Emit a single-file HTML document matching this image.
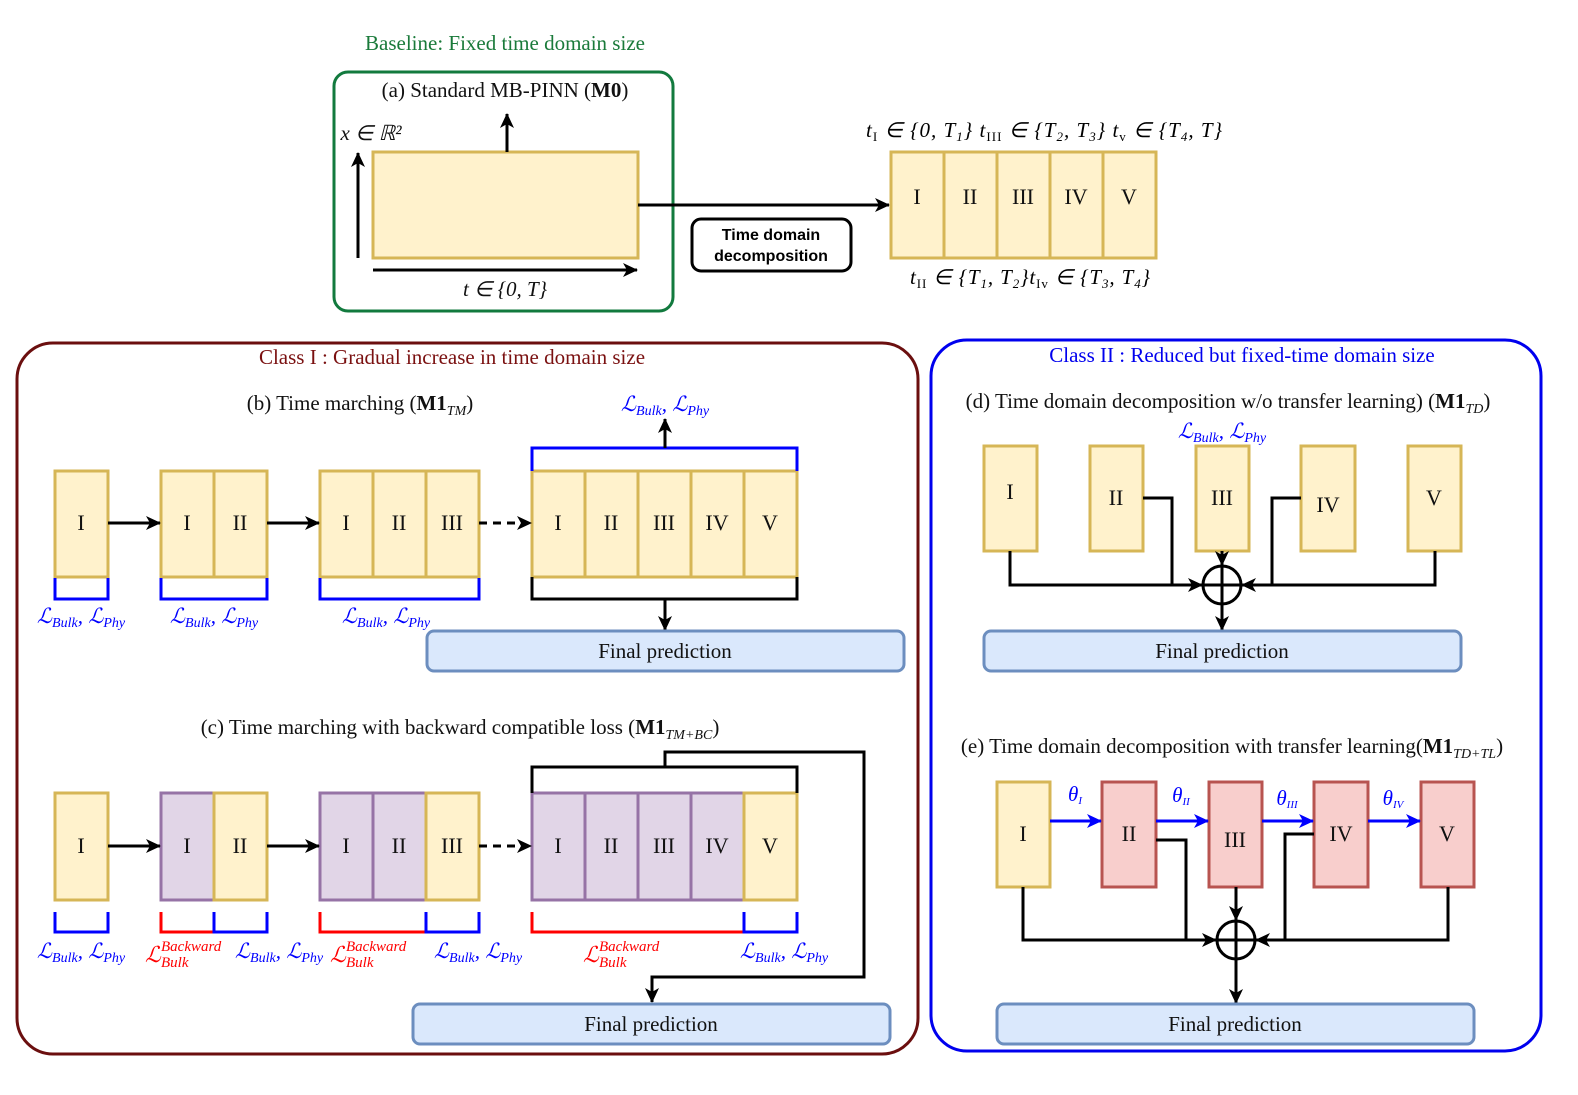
<!DOCTYPE html>
<html><head><meta charset="utf-8"><style>
html,body{margin:0;padding:0;background:#fff}
svg{display:block;font-family:"Liberation Serif",serif}
.y{fill:#fff2cc;stroke:#d6b656;stroke-width:3}
.p{fill:#e1d5e7;stroke:#9673a6;stroke-width:3}
.r{fill:#f8cecc;stroke:#b85450;stroke-width:3}
.f{fill:#dae8fc;stroke:#6c8ebf;stroke-width:3}
.k{fill:none;stroke:#000;stroke-width:3}
.bb{fill:none;stroke:#0000ff;stroke-width:3}
.rr{fill:none;stroke:#ff0000;stroke-width:3}
.c{font-size:22px;text-anchor:middle;fill:#111}
.t{font-size:21px;text-anchor:middle;fill:#111}
.l{font-size:21px;text-anchor:middle;fill:#0000ff;font-style:italic}
.lr{fill:#ff0000;font-style:italic}
</style></head><body>
<svg width="1578" height="1095" viewBox="0 0 1578 1095">
<defs>
<marker id="A" markerWidth="16" markerHeight="16" refX="14" refY="8" orient="auto" markerUnits="userSpaceOnUse"><path d="M0,1 L15,8 L0,15 L4,8z" fill="#000"/></marker>
<marker id="B" markerWidth="16" markerHeight="16" refX="14" refY="8" orient="auto" markerUnits="userSpaceOnUse"><path d="M0,1 L15,8 L0,15 L4,8z" fill="#0000ff"/></marker>
</defs>

<!-- Baseline -->
<text x="505" y="50" font-size="21" fill="#1a7a3a" text-anchor="middle">Baseline: Fixed time domain size</text>
<rect x="334" y="72" width="339" height="239" rx="14" fill="none" stroke="#127a3e" stroke-width="3"/>
<text x="505" y="97" class="t">(a) Standard MB-PINN (<tspan font-weight="bold">M0</tspan>)</text>
<rect x="373" y="152" width="265" height="106" class="y"/>
<line x1="507" y1="152" x2="507" y2="114" class="k" marker-end="url(#A)"/>
<line x1="358" y1="258" x2="358" y2="153" class="k" marker-end="url(#A)"/>
<text x="371" y="140" class="t" font-style="italic">x ∈ ℝ²</text>
<line x1="373" y1="270" x2="637" y2="270" class="k" marker-end="url(#A)"/>
<text x="505" y="296" class="t" font-style="italic">t ∈ {0, T}</text>
<line x1="638" y1="205" x2="889" y2="205" class="k" marker-end="url(#A)"/>
<rect x="692" y="219" width="159" height="52" rx="9" fill="#fff" stroke="#000" stroke-width="3"/>
<text x="771" y="240" font-family="Liberation Sans,sans-serif" font-weight="bold" font-size="16" text-anchor="middle">Time domain</text>
<text x="771" y="261" font-family="Liberation Sans,sans-serif" font-weight="bold" font-size="16" text-anchor="middle">decomposition</text>
<g>
<rect x="891" y="152" width="53" height="106" class="y"/><rect x="944" y="152" width="53" height="106" class="y"/><rect x="997" y="152" width="53" height="106" class="y"/><rect x="1050" y="152" width="53" height="106" class="y"/><rect x="1103" y="152" width="53" height="106" class="y"/>
<text x="917" y="204" class="c">I</text><text x="970" y="204" class="c">II</text><text x="1023" y="204" class="c">III</text><text x="1076" y="204" class="c">IV</text><text x="1129" y="204" class="c">V</text>
</g>
<text x="1044" y="137" font-size="21" text-anchor="middle" font-style="italic" textLength="356">t<tspan font-size="13" dy="4" font-style="normal">I</tspan><tspan dy="-4"> ∈ {0, T</tspan><tspan font-size="13" dy="4">1</tspan><tspan dy="-4">} t</tspan><tspan font-size="13" dy="4" font-style="normal">III</tspan><tspan dy="-4"> ∈ {T</tspan><tspan font-size="13" dy="4">2</tspan><tspan dy="-4">, T</tspan><tspan font-size="13" dy="4">3</tspan><tspan dy="-4">}  t</tspan><tspan font-size="13" dy="4" font-style="normal">v</tspan><tspan dy="-4"> ∈ {T</tspan><tspan font-size="13" dy="4">4</tspan><tspan dy="-4">, T}</tspan></text>
<text x="1030" y="284" font-size="21" text-anchor="middle" font-style="italic" textLength="240">t<tspan font-size="13" dy="4" font-style="normal">II</tspan><tspan dy="-4"> ∈ {T</tspan><tspan font-size="13" dy="4">1</tspan><tspan dy="-4">, T</tspan><tspan font-size="13" dy="4">2</tspan><tspan dy="-4">}t</tspan><tspan font-size="13" dy="4" font-style="normal">Iv</tspan><tspan dy="-4"> ∈ {T</tspan><tspan font-size="13" dy="4">3</tspan><tspan dy="-4">, T</tspan><tspan font-size="13" dy="4">4</tspan><tspan dy="-4">}</tspan></text>

<!-- Class I -->
<rect x="17" y="343" width="901" height="711" rx="36" fill="none" stroke="#6b0f0f" stroke-width="3"/>
<text x="452" y="364" font-size="21" fill="#7a1010" text-anchor="middle">Class I : Gradual increase in time domain size</text>
<text x="360" y="410" class="t">(b) Time marching (<tspan font-weight="bold">M1</tspan><tspan font-size="14" font-style="italic" dy="5">TM</tspan><tspan dy="-5">)</tspan></text>
<g>
<rect x="55" y="471" width="53" height="106" class="y"/>
<rect x="161" y="471" width="53" height="106" class="y"/><rect x="214" y="471" width="53" height="106" class="y"/>
<rect x="320" y="471" width="53" height="106" class="y"/><rect x="373" y="471" width="53" height="106" class="y"/><rect x="426" y="471" width="53" height="106" class="y"/>
<rect x="532" y="471" width="53" height="106" class="y"/><rect x="585" y="471" width="53" height="106" class="y"/><rect x="638" y="471" width="53" height="106" class="y"/><rect x="691" y="471" width="53" height="106" class="y"/><rect x="744" y="471" width="53" height="106" class="y"/>
<text x="81" y="530" class="c">I</text>
<text x="187" y="530" class="c">I</text><text x="240" y="530" class="c">II</text>
<text x="346" y="530" class="c">I</text><text x="399" y="530" class="c">II</text><text x="452" y="530" class="c">III</text>
<text x="558" y="530" class="c">I</text><text x="611" y="530" class="c">II</text><text x="664" y="530" class="c">III</text><text x="717" y="530" class="c">IV</text><text x="770" y="530" class="c">V</text>
</g>
<line x1="108" y1="523" x2="160" y2="523" class="k" marker-end="url(#A)"/>
<line x1="267" y1="523" x2="319" y2="523" class="k" marker-end="url(#A)"/>
<line x1="479" y1="523" x2="531" y2="523" class="k" stroke-dasharray="8,6" marker-end="url(#A)"/>
<path d="M55,578 V599 H108 V578" class="bb"/>
<path d="M161,578 V599 H267 V578" class="bb"/>
<path d="M320,578 V599 H479 V578" class="bb"/>
<path d="M532,471 V448 H797 V471" class="bb"/>
<line x1="665" y1="448" x2="665" y2="419" class="k" marker-end="url(#A)"/>
<text x="665" y="411" class="l">ℒ<tspan font-size="14" dy="4">Bulk</tspan><tspan dy="-4">, ℒ</tspan><tspan font-size="14" dy="4">Phy</tspan></text>
<text x="81" y="623" class="l">ℒ<tspan font-size="14" dy="4">Bulk</tspan><tspan dy="-4">, ℒ</tspan><tspan font-size="14" dy="4">Phy</tspan></text>
<text x="214" y="623" class="l">ℒ<tspan font-size="14" dy="4">Bulk</tspan><tspan dy="-4">, ℒ</tspan><tspan font-size="14" dy="4">Phy</tspan></text>
<text x="386" y="623" class="l">ℒ<tspan font-size="14" dy="4">Bulk</tspan><tspan dy="-4">, ℒ</tspan><tspan font-size="14" dy="4">Phy</tspan></text>
<path d="M532,577 V599 H797 V577" class="k"/>
<line x1="665" y1="599" x2="665" y2="630" class="k" marker-end="url(#A)"/>
<rect x="427" y="631" width="477" height="40" rx="7" class="f"/>
<text x="665" y="658" class="t">Final prediction</text>

<!-- (c) -->
<text x="460" y="734" class="t">(c) Time marching with backward compatible loss (<tspan font-weight="bold">M1</tspan><tspan font-size="14" font-style="italic" dy="5">TM+BC</tspan><tspan dy="-5">)</tspan></text>
<g>
<rect x="55" y="793" width="53" height="107" class="y"/>
<rect x="161" y="793" width="53" height="107" class="p"/><rect x="214" y="793" width="53" height="107" class="y"/>
<rect x="320" y="793" width="53" height="107" class="p"/><rect x="373" y="793" width="53" height="107" class="p"/><rect x="426" y="793" width="53" height="107" class="y"/>
<rect x="532" y="793" width="53" height="107" class="p"/><rect x="585" y="793" width="53" height="107" class="p"/><rect x="638" y="793" width="53" height="107" class="p"/><rect x="691" y="793" width="53" height="107" class="p"/><rect x="744" y="793" width="53" height="107" class="y"/>
<text x="81" y="853" class="c">I</text>
<text x="187" y="853" class="c">I</text><text x="240" y="853" class="c">II</text>
<text x="346" y="853" class="c">I</text><text x="399" y="853" class="c">II</text><text x="452" y="853" class="c">III</text>
<text x="558" y="853" class="c">I</text><text x="611" y="853" class="c">II</text><text x="664" y="853" class="c">III</text><text x="717" y="853" class="c">IV</text><text x="770" y="853" class="c">V</text>
</g>
<line x1="108" y1="846" x2="160" y2="846" class="k" marker-end="url(#A)"/>
<line x1="267" y1="846" x2="319" y2="846" class="k" marker-end="url(#A)"/>
<line x1="479" y1="846" x2="531" y2="846" class="k" stroke-dasharray="8,6" marker-end="url(#A)"/>
<path d="M532,793 V767 H797 V793" class="k"/>
<path d="M665,767 V752 H864 V977 H652 V1002" class="k" marker-end="url(#A)"/>
<path d="M55,912 V932 H108 V912" class="bb"/>
<path d="M161,912 V932 H214" class="rr"/><path d="M214,912 V932 H267 V912" class="bb"/>
<path d="M320,912 V932 H426" class="rr"/><path d="M426,912 V932 H479 V912" class="bb"/>
<path d="M532,912 V932 H744" class="rr"/><path d="M744,912 V932 H797 V912" class="bb"/>
<text x="81" y="958" class="l">ℒ<tspan font-size="14" dy="4">Bulk</tspan><tspan dy="-4">, ℒ</tspan><tspan font-size="14" dy="4">Phy</tspan></text>
<text x="279" y="958" class="l">ℒ<tspan font-size="14" dy="4">Bulk</tspan><tspan dy="-4">, ℒ</tspan><tspan font-size="14" dy="4">Phy</tspan></text>
<text x="478" y="958" class="l">ℒ<tspan font-size="14" dy="4">Bulk</tspan><tspan dy="-4">, ℒ</tspan><tspan font-size="14" dy="4">Phy</tspan></text>
<text x="784" y="958" class="l">ℒ<tspan font-size="14" dy="4">Bulk</tspan><tspan dy="-4">, ℒ</tspan><tspan font-size="14" dy="4">Phy</tspan></text>
<text x="145" y="962" class="lr" font-size="22">ℒ</text><text x="161" y="951" class="lr" font-size="15">Backward</text><text x="161" y="967" class="lr" font-size="15">Bulk</text>
<text x="330" y="962" class="lr" font-size="22">ℒ</text><text x="346" y="951" class="lr" font-size="15">Backward</text><text x="346" y="967" class="lr" font-size="15">Bulk</text>
<text x="583" y="962" class="lr" font-size="22">ℒ</text><text x="599" y="951" class="lr" font-size="15">Backward</text><text x="599" y="967" class="lr" font-size="15">Bulk</text>
<rect x="413" y="1004" width="477" height="40" rx="7" class="f"/>
<text x="651" y="1031" class="t">Final prediction</text>

<!-- Class II -->
<rect x="931" y="340" width="610" height="711" rx="36" fill="none" stroke="#0000ee" stroke-width="3"/>
<text x="1242" y="362" font-size="21" fill="#0000ee" text-anchor="middle">Class II : Reduced but fixed-time domain size</text>
<text x="1228" y="408" class="t">(d) Time domain decomposition w/o transfer learning) (<tspan font-weight="bold">M1</tspan><tspan font-size="14" font-style="italic" dy="5">TD</tspan><tspan dy="-5">)</tspan></text>
<text x="1222" y="438" class="l">ℒ<tspan font-size="14" dy="4">Bulk</tspan><tspan dy="-4">, ℒ</tspan><tspan font-size="14" dy="4">Phy</tspan></text>
<g>
<rect x="984" y="446" width="53" height="105" class="y"/>
<rect x="1090" y="446" width="53" height="105" class="y"/>
<rect x="1196" y="446" width="53" height="105" class="y"/>
<rect x="1301" y="446" width="54" height="105" class="y"/>
<rect x="1408" y="446" width="53" height="105" class="y"/>
<text x="1010" y="499" class="c">I</text><text x="1116" y="505" class="c">II</text><text x="1222" y="505" class="c">III</text><text x="1328" y="512" class="c">IV</text><text x="1434" y="505" class="c">V</text>
</g>
<path d="M1010,551 V585 H1202" class="k" marker-end="url(#A)"/>
<path d="M1143,498 H1172 V585" class="k"/>
<path d="M1435,551 V585 H1242" class="k" marker-end="url(#A)"/>
<path d="M1301,498 H1272 V585" class="k"/>
<line x1="1222" y1="551" x2="1222" y2="565" class="k" marker-end="url(#A)"/>
<circle cx="1222" cy="585" r="19" fill="none" stroke="#000" stroke-width="3"/>
<line x1="1203" y1="585" x2="1241" y2="585" class="k"/>
<line x1="1222" y1="566" x2="1222" y2="630" class="k" marker-end="url(#A)"/>
<rect x="984" y="631" width="477" height="40" rx="7" class="f"/>
<text x="1222" y="658" class="t">Final prediction</text>

<text x="1232" y="753" class="t">(e) Time domain decomposition with transfer learning(<tspan font-weight="bold">M1</tspan><tspan font-size="14" font-style="italic" dy="5">TD+TL</tspan><tspan dy="-5">)</tspan></text>
<g>
<rect x="997" y="782" width="53" height="105" class="y"/>
<rect x="1102" y="782" width="54" height="105" class="r"/>
<rect x="1209" y="782" width="53" height="105" class="r"/>
<rect x="1314" y="782" width="54" height="105" class="r"/>
<rect x="1421" y="782" width="53" height="105" class="r"/>
<text x="1023" y="841" class="c">I</text><text x="1129" y="841" class="c">II</text><text x="1235" y="847" class="c">III</text><text x="1341" y="841" class="c">IV</text><text x="1447" y="841" class="c">V</text>
</g>
<line x1="1050" y1="821" x2="1101" y2="821" stroke="#0000ff" stroke-width="3" marker-end="url(#B)"/>
<line x1="1156" y1="821" x2="1208" y2="821" stroke="#0000ff" stroke-width="3" marker-end="url(#B)"/>
<line x1="1262" y1="821" x2="1313" y2="821" stroke="#0000ff" stroke-width="3" marker-end="url(#B)"/>
<line x1="1368" y1="821" x2="1420" y2="821" stroke="#0000ff" stroke-width="3" marker-end="url(#B)"/>
<text x="1075" y="801" class="l" font-size="16">θ<tspan font-size="11" dy="3">I</tspan></text>
<text x="1181" y="802" class="l" font-size="16">θ<tspan font-size="11" dy="3">II</tspan></text>
<text x="1287" y="805" class="l" font-size="16">θ<tspan font-size="11" dy="3">III</tspan></text>
<text x="1393" y="805" class="l" font-size="16">θ<tspan font-size="11" dy="3">IV</tspan></text>
<path d="M1023,887 V940 H1216" class="k" marker-end="url(#A)"/>
<path d="M1156,840 H1186 V940" class="k"/>
<path d="M1448,887 V940 H1256" class="k" marker-end="url(#A)"/>
<path d="M1314,834 H1285 V940" class="k"/>
<line x1="1236" y1="887" x2="1236" y2="920" class="k" marker-end="url(#A)"/>
<circle cx="1236" cy="940" r="19" fill="none" stroke="#000" stroke-width="3"/>
<line x1="1217" y1="940" x2="1255" y2="940" class="k"/>
<line x1="1236" y1="921" x2="1236" y2="1003" class="k" marker-end="url(#A)"/>
<rect x="997" y="1004" width="477" height="40" rx="7" class="f"/>
<text x="1235" y="1031" class="t">Final prediction</text>
</svg>
</body></html>
